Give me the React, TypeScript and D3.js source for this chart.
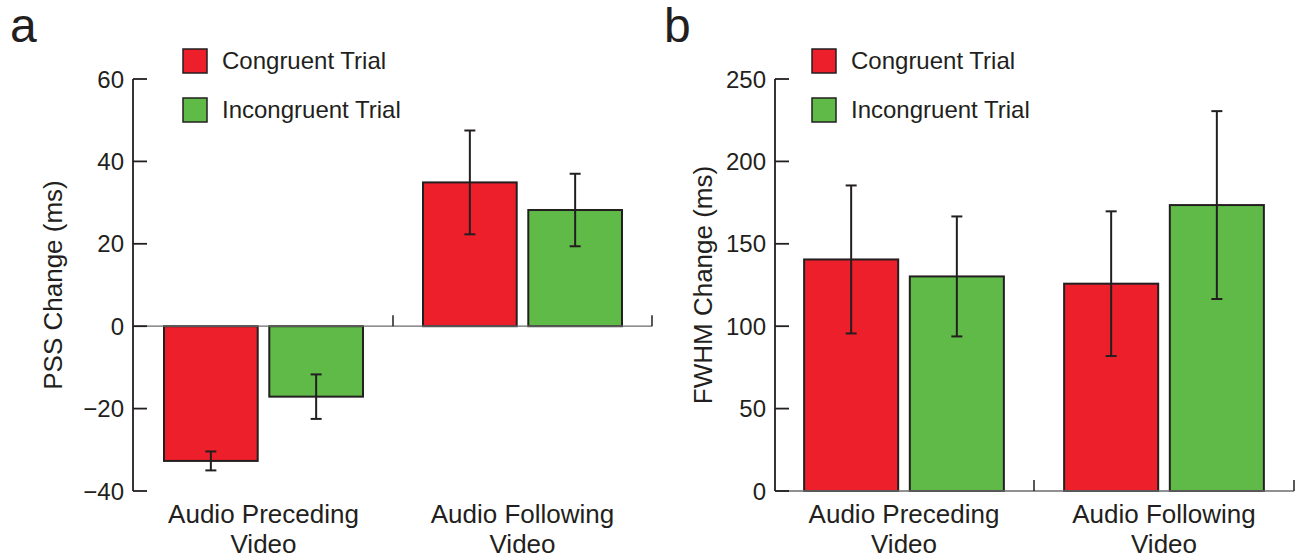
import { useEffect } from "react";
import * as d3 from "d3";

const categories = ["Audio Preceding Video", "Audio Following Video"];
const categoryLines = [
  ["Audio Preceding", "Video"],
  ["Audio Following", "Video"],
];
const series = ["Congruent Trial", "Incongruent Trial"];

// panel a: PSS change (ms)
const pssCongruent = [-32.7, 34.9];
const pssCongruentErr = [2.3, 12.6];
const pssIncongruent = [-17.1, 28.2];
const pssIncongruentErr = [5.4, 8.8];
const pssTicks = [-40, -20, 0, 20, 40, 60];

// panel b: FWHM change (ms)
const fwhmCongruent = [140.5, 125.8];
const fwhmCongruentErr = [44.9, 43.9];
const fwhmIncongruent = [130.2, 173.5];
const fwhmIncongruentErr = [36.4, 57];
const fwhmTicks = [0, 50, 100, 150, 200, 250];

const colors = ["#ED1F2B", "#5FBA47"];
const ink = "#231F20";
const font = "'Liberation Sans', Arial, Helvetica, sans-serif";

type PanelProps = {
  letter: string;
  letterX: number;
  title: string;
  titleX: number;
  axisX: number;
  xRange: [number, number];
  domain: [number, number];
  ticks: number[];
  values: number[][];
  errors: number[][];
  legendX: number;
};

function Panel({
  letter,
  letterX,
  title,
  titleX,
  axisX,
  xRange,
  domain,
  ticks,
  values,
  errors,
  legendX,
}: PanelProps) {
  const top = 79;
  const bottom = 491;

  const y = d3.scaleLinear().domain(domain).range([bottom, top]);
  const x0 = d3.scaleBand<string>().domain(categories).range(xRange);
  const x1 = d3
    .scaleBand<string>()
    .domain(series)
    .range([0, x0.bandwidth()])
    .paddingInner(0.11)
    .paddingOuter(0.285);

  const base = y(Math.max(0, domain[0]));
  const capHalf = 5.5;

  return (
    <g fontFamily={font} fill={ink}>
      <text x={letterX} y={42} fontSize={48}>
        {letter}
      </text>

      {/* bars */}
      {categories.map((c, ci) => (
        <g key={c} transform={`translate(${x0(c)},0)`}>
          {series.map((s, si) => {
            const v = values[si][ci];
            return (
              <rect
                key={s}
                x={x1(s)}
                y={Math.min(y(v), base)}
                width={x1.bandwidth()}
                height={Math.abs(y(v) - base)}
                fill={colors[si]}
                stroke={ink}
                strokeWidth={2}
              />
            );
          })}
        </g>
      ))}

      {/* zero line with category separators */}
      <line
        x1={axisX}
        x2={xRange[1]}
        y1={base}
        y2={base}
        stroke="#6d6d6d"
        strokeWidth={1.3}
      />
      {[x0.step() + xRange[0], xRange[1]].map((sx) => (
        <line
          key={sx}
          x1={sx}
          x2={sx}
          y1={base}
          y2={base - 11}
          stroke={ink}
          strokeWidth={1.5}
        />
      ))}

      {/* error bars */}
      {categories.map((c, ci) =>
        series.map((s, si) => {
          const cx = (x0(c) ?? 0) + (x1(s) ?? 0) + x1.bandwidth() / 2;
          const v = values[si][ci];
          const e = errors[si][ci];
          const y1 = y(v + e);
          const y2 = y(v - e);
          return (
            <g key={c + s} stroke={ink} strokeWidth={2}>
              <line x1={cx} x2={cx} y1={y1} y2={y2} />
              <line x1={cx - capHalf} x2={cx + capHalf} y1={y1} y2={y1} />
              <line x1={cx - capHalf} x2={cx + capHalf} y1={y2} y2={y2} />
            </g>
          );
        })
      )}

      {/* y axis */}
      <line x1={axisX} x2={axisX} y1={top} y2={bottom} stroke={ink} strokeWidth={1.8} />
      {ticks.map((t) => (
        <g key={t}>
          <line
            x1={axisX}
            x2={axisX + 14}
            y1={y(t)}
            y2={y(t)}
            stroke={ink}
            strokeWidth={1.8}
          />
          <text
            x={axisX - 9}
            y={y(t)}
            fontSize={24}
            textAnchor="end"
            dominantBaseline="central"
          >
            {t < 0 ? `\u2212${Math.abs(t)}` : t}
          </text>
        </g>
      ))}
      <text
        transform={`translate(${titleX},285) rotate(-90)`}
        fontSize={26}
        textAnchor="middle"
      >
        {title}
      </text>

      {/* category labels */}
      {categories.map((c, ci) => (
        <text
          key={c}
          x={(x0(c) ?? 0) + x0.bandwidth() / 2}
          y={523}
          fontSize={26}
          textAnchor="middle"
        >
          {categoryLines[ci].map((line, li) => (
            <tspan key={li} x={(x0(c) ?? 0) + x0.bandwidth() / 2} dy={li === 0 ? 0 : 30}>
              {line}
            </tspan>
          ))}
        </text>
      ))}

      {/* legend */}
      {series.map((s, si) => (
        <g key={s} transform={`translate(${legendX},${49 + si * 49})`}>
          <rect width={24} height={24} fill={colors[si]} stroke={ink} strokeWidth={1.5} />
          <text x={39} y={20} fontSize={24}>
            {s}
          </text>
        </g>
      ))}
    </g>
  );
}

export default function App() {
  useEffect(() => {
    document.body.style.margin = "0";
  }, []);

  return (
    <svg width={1295} height={559} style={{ display: "block", background: "#fff" }}>
      <Panel
        letter="a"
        letterX={10}
        title="PSS Change (ms)"
        titleX={62}
        axisX={133}
        xRange={[134, 652]}
        domain={[-40, 60]}
        ticks={pssTicks}
        values={[pssCongruent, pssIncongruent]}
        errors={[pssCongruentErr, pssIncongruentErr]}
        legendX={183}
      />
      <Panel
        letter="b"
        letterX={664}
        title="FWHM Change (ms)"
        titleX={712}
        axisX={775}
        xRange={[774, 1294]}
        domain={[0, 250]}
        ticks={fwhmTicks}
        values={[fwhmCongruent, fwhmIncongruent]}
        errors={[fwhmCongruentErr, fwhmIncongruentErr]}
        legendX={812}
      />
    </svg>
  );
}
